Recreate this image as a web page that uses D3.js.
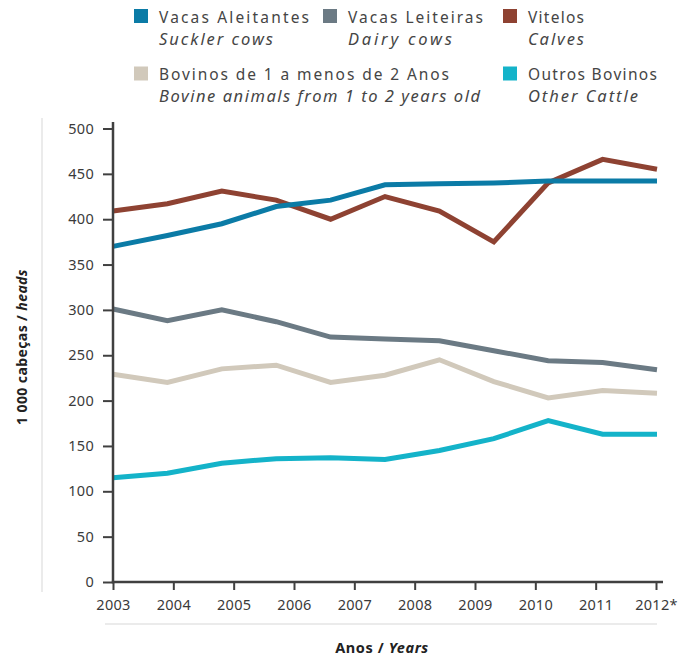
<!DOCTYPE html>
<html>
<head>
<meta charset="utf-8">
<script src="https://cdn.jsdelivr.net/npm/d3@7"></script>
<style>
  html, body { margin: 0; padding: 0; background: #fff; }
  svg { display: block; }
  text { font-family: "Century Gothic", "Noto Sans", sans-serif; }
</style>
</head>
<body>
<svg id="chart" width="687" height="656"></svg>
<script>
// ---------- data ----------
const tickLabels = ["2003", "2004", "2005", "2006", "2007", "2008", "2009", "2010", "2011", "2012*"];
const yTicks = [0, 50, 100, 150, 200, 250, 300, 350, 400, 450, 500];

const seriesNamesPt = ["Vacas Aleitantes", "Vacas Leiteiras", "Vitelos", "Bovinos de 1 a menos de 2 Anos", "Outros Bovinos"];
const seriesNamesEn = ["Suckler cows", "Dairy cows", "Calves", "Bovine animals from 1 to 2 years old", "Other Cattle"];

const sucklerCows = [370, 382, 395, 414, 421, 438, 439, 440, 442, 442, 442];
const dairyCows   = [301, 288, 300, 287, 270, 268, 266, 255, 244, 242, 234];
const calves      = [409, 417, 431, 421, 400, 425, 409, 375, 440, 466, 455];
const bovine1to2  = [229, 220, 235, 239, 220, 228, 245, 221, 203, 211, 208];
const otherCattle = [115, 120, 131, 136, 137, 135, 145, 158, 178, 163, 163];

const seriesColors = ["#0b7ba6", "#6b7a84", "#8e4232", "#d1c9bb", "#14b3c9"];

// ---------- layout ----------
const svg = d3.select("#chart");
const X0 = 113, X1 = 657, Y0 = 582, Y1 = 128.5;
const inkDark = "#404040";
const FONT = "\"Century Gothic\", \"Noto Sans\", sans-serif";

const xData = d3.scaleLinear().domain([0, sucklerCows.length - 1]).range([X0, X1]);
const xTick = d3.scalePoint().domain(tickLabels).range([X0, 656]);
const y = d3.scaleLinear().domain([0, 500]).range([Y0, Y1]);

// light frame lines
svg.append("line").attr("x1", 42).attr("x2", 42).attr("y1", 118).attr("y2", 592)
  .attr("stroke", "#e4e4e4").attr("stroke-width", 1.5);
svg.append("line").attr("x1", 105).attr("x2", 657).attr("y1", 624).attr("y2", 624)
  .attr("stroke", "#e4e4e4").attr("stroke-width", 1.5);

// series lines
const allSeries = [sucklerCows, dairyCows, calves, bovine1to2, otherCattle];
const drawOrder = [3, 4, 1, 2, 0];
const line = d3.line().x((d, i) => xData(i)).y(d => y(d));
drawOrder.forEach(k => {
  svg.append("path").datum(allSeries[k])
    .attr("d", line)
    .attr("fill", "none")
    .attr("stroke", seriesColors[k])
    .attr("stroke-width", 5)
    .attr("stroke-linejoin", "miter")
    .attr("stroke-linecap", "butt");
});

// y axis
const yAxis = d3.axisLeft(y).tickValues(yTicks).tickSize(10).tickPadding(9).tickFormat(d3.format("d"));
const gy = svg.append("g").attr("transform", `translate(${X0},0)`).call(yAxis);
gy.select(".domain").remove();
gy.selectAll(".tick line").attr("stroke", inkDark).attr("stroke-width", 2);
gy.selectAll(".tick text").attr("fill", "#3a3a3a").style("font-size", "14.5px")
  .style("font-family", FONT).style("letter-spacing", "0.3px");

// x axis
const xAxis = d3.axisBottom(xTick).tickSize(8).tickPadding(10);
const gx = svg.append("g").attr("transform", `translate(0,${Y0})`).call(xAxis);
gx.select(".domain").remove();
gx.selectAll(".tick line").attr("stroke", inkDark).attr("stroke-width", 2);
gx.selectAll(".tick text").attr("fill", "#3a3a3a").style("font-size", "14.5px")
  .style("font-family", FONT).style("letter-spacing", "0.3px");

// axis lines
svg.append("line").attr("x1", X0).attr("x2", X0).attr("y1", 122).attr("y2", Y0 + 1.2)
  .attr("stroke", inkDark).attr("stroke-width", 2.5);
svg.append("line").attr("x1", X0 - 1.2).attr("x2", 663).attr("y1", Y0).attr("y2", Y0)
  .attr("stroke", inkDark).attr("stroke-width", 2.5);

// axis titles
const yt = svg.append("text")
  .attr("transform", "translate(27,347) rotate(-90)")
  .attr("text-anchor", "middle")
  .attr("fill", "#222").style("font-size", "14px").style("font-weight", "bold")
  .style("letter-spacing", "0.4px");
yt.append("tspan").text("1 000 cabeças / ");
yt.append("tspan").style("font-style", "italic").text("heads");

const xt = svg.append("text")
  .attr("x", 382).attr("y", 653)
  .attr("text-anchor", "middle")
  .attr("fill", "#222").style("font-size", "14.5px").style("font-weight", "bold")
  .style("letter-spacing", "0.6px");
xt.append("tspan").text("Anos / ");
xt.append("tspan").style("font-style", "italic").text("Years");

// legend
const legendPos = [
  {sx: 134, tx: 159, row: 0, wPt: 150, wEn: 114},
  {sx: 323, tx: 348, row: 0, wPt: 135, wEn: 104},
  {sx: 503, tx: 528, row: 0, wPt: 56,  wEn: 56},
  {sx: 134, tx: 159, row: 1, wPt: 290, wEn: 321},
  {sx: 503, tx: 528, row: 1, wPt: 129, wEn: 110}
];
const rowBase = [22.5, 80];
const rowItal = [45, 102];
const lg = svg.append("g");
legendPos.forEach((p, k) => {
  lg.append("rect").attr("x", p.sx).attr("y", rowBase[p.row] - 13.5).attr("width", 14).attr("height", 14)
    .attr("fill", seriesColors[k]);
  lg.append("text").attr("x", p.tx).attr("y", rowBase[p.row])
    .attr("fill", "#454545").style("font-size", "15.5px")
    .attr("textLength", p.wPt).attr("lengthAdjust", "spacing")
    .text(seriesNamesPt[k]);
  lg.append("text").attr("x", p.tx).attr("y", rowItal[p.row])
    .attr("fill", "#454545").style("font-size", "16.5px").style("font-style", "italic")
    .attr("textLength", p.wEn).attr("lengthAdjust", "spacing")
    .text(seriesNamesEn[k]);
});
</script>
</body>
</html>
